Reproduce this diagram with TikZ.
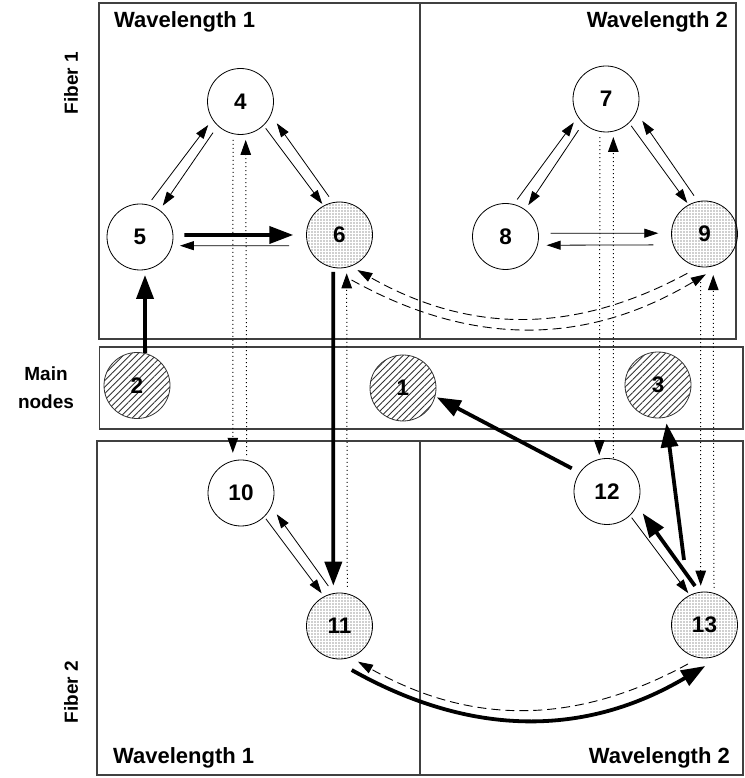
\documentclass[tikz,border=0pt]{standalone}
\usepackage{fontspec}
\setmainfont{Liberation Sans}
\usetikzlibrary{arrows.meta,calc,patterns.meta}

\tikzset{
  region/.style={draw=black!75, line width=1.1pt},
  station/.style={circle, draw=black, line width=0.8pt, minimum size=66pt, inner sep=0pt,
    font=\fontsize{22.5}{24}\selectfont\bfseries},
  plainst/.style={station, fill=white},
  dotst/.style={station, pattern={Dots[distance=3pt,radius=0.65pt]}, pattern color=black!80},
  hatchst/.style={station, draw=black!80, pattern={Lines[angle=45,distance=4.6pt,line width=0.9pt]}, pattern color=black!80},
  thinarr/.style={line width=0.8pt, -{Triangle[length=14pt,width=9pt]}},
  thickarr/.style={line width=3.8pt, -{Triangle[length=24pt,width=17pt]}},
  dotarr/.style={line width=1pt, dash pattern=on 1pt off 3pt, -{Triangle[length=15pt,width=10.5pt]}},
  dasharr/.style={line width=0.9pt, dash pattern=on 9pt off 5pt, -{Triangle[length=15pt,width=9.5pt]}},
  wlabel/.style={font=\fontsize{22}{24}\selectfont\bfseries, inner sep=0pt},
  sidelabel/.style={font=\fontsize{19}{27.6}\selectfont\bfseries, inner sep=0pt},
}

\begin{document}
\begin{tikzpicture}[x=1pt,y=1pt]
\useasboundingbox (0,0) rectangle (744,778);

% fiber 1 panel, main nodes strip, fiber 2 panel
\draw[region] (99,439) rectangle (736,775);
\draw[region] (420,439) -- (420,775);
\draw[region] (99.5,349) rectangle (743,431);
\draw[region] (97,3) rectangle (743,337);
\draw[region] (420,3) -- (420,337);

% panel captions
\node[wlabel, anchor=base west] (wl11) at (114,750.5) {Wavelength 1};
\node[wlabel, anchor=base east] (wl12) at (728,750.5) {Wavelength 2};
\node[wlabel, anchor=base west] (wl21) at (113,14) {Wavelength 1};
\node[wlabel, anchor=base east] (wl22) at (730,14) {Wavelength 2};
\node[sidelabel, rotate=90] (f1) at (71,695) {Fiber 1};
\node[sidelabel, rotate=90] (f2) at (71,86) {Fiber 2};
\node[sidelabel, align=center] (mn) at (46,390) {Main\\nodes};

% stations
\node[plainst] (n4) at (240.5,676.5) {4};
\node[plainst] (n5) at (140,541) {5};
\node[dotst]   (n6) at (339.5,543) {6};
\node[plainst] (n7) at (606,679) {7};
\node[plainst] (n8) at (505.5,541.5) {8};
\node[dotst]   (n9) at (704.5,544) {9};
\node[hatchst] (n2) at (137,392.5) {2};
\node[hatchst] (n1) at (403,390) {1};
\node[hatchst] (n3) at (658,393) {3};
\node[plainst] (n10) at (241,285) {10};
\node[dotst]   (n11) at (339.5,152) {11};
\node[plainst] (n12) at (607,286.5) {12};
\node[dotst]   (n13) at (704.5,153) {13};

% fiber 1, wavelength 1
\draw[thinarr] ($(n5)+(72.5:38.8)$) -- ($(n4)+(216.1:39.9)$);
\draw[thinarr] ($(n4)+(228.6:41.6)$) -- ($(n5)+(54:38.7)$);
\draw[thinarr] ($(n4)+(313.2:36.8)$) -- ($(n6)+(119:35.5)$);
\draw[thinarr] ($(n6)+(105.3:39.7)$) -- ($(n4)+(329:42.3)$);
\draw[thickarr] ($(n5)+(2.6:44.3)$) -- ($(n6)+(180:46.2)$);
\draw[thinarr] ($(n6)+(192:51.6)$) -- ($(n5)+(347.7:40.9)$);

% fiber 1, wavelength 2
\draw[thinarr] ($(n8)+(72.5:38.8)$) -- ($(n7)+(216.1:39.9)$);
\draw[thinarr] ($(n7)+(228.6:41.6)$) -- ($(n8)+(54:38.7)$);
\draw[thinarr] ($(n7)+(313.2:36.8)$) -- ($(n9)+(119:35.5)$);
\draw[thinarr] ($(n9)+(105.3:39.7)$) -- ($(n7)+(329:42.3)$);
\draw[thinarr] ($(n8)+(4:45.3)$) -- ($(n9)+(179:46.2)$);
\draw[thinarr] ($(n9)+(192:52.4)$) -- ($(n8)+(348:42)$);

% fiber 2
\draw[thinarr] ($(n10)+(313.9:36)$) -- ($(n11)+(118.6:37.2)$);
\draw[thinarr] ($(n11)+(105.6:41.5)$) -- ($(n10)+(329.2:41.6)$);
\draw[thinarr] ($(n12)+(313.3:36)$) -- ($(n13)+(117:35.6)$);
\draw[thickarr] ($(n13)+(103.7:40.1)$) -- ($(n12)+(328.6:41.8)$);

% lightpath between main nodes
\draw[thickarr] ($(n2)+(76:33.5)$) -- ($(n5)+(277.5:38.3)$);
\draw[thickarr] ($(n6)+(260.5:37.5)$) -- ($(n11)+(98.7:40.8)$);
\draw[thickarr] ($(n11)+(285.5:45.7)$) to[bend right=30] ($(n13)+(271:41)$);
\draw[thickarr] ($(n13)+(107.5:68.2)$) -- ($(n3)+(282.5:39.2)$);
\draw[thickarr] ($(n12)+(146.7:42.2)$) -- ($(n1)+(344.6:35)$);

% fiber crossings
\draw[dotarr] ($(n11)+(78.8:40)$) -- ($(n6)+(280.6:39)$);
\draw[dotarr] ($(n4)+(259:39.2)$) -- ($(n10)+(101.5:41)$);
\draw[dotarr] ($(n10)+(81.5:38.4)$) -- ($(n4)+(277.7:38.8)$);
\draw[dotarr] ($(n7)+(261:38.5)$) -- ($(n12)+(102:37.3)$);
\draw[dotarr] ($(n12)+(79.4:34)$) -- ($(n7)+(280.9:38.7)$);
\draw[dotarr] ($(n9)+(265:44.2)$) -- ($(n13)+(95.5:39.5)$);
\draw[dotarr] ($(n13)+(75.6:38.2)$) -- ($(n9)+(282:42)$);

% wavelength conversion links
\draw[dasharr] ($(n9)+(246.4:42.9)$) to[bend left=29] ($(n6)+(297:39.3)$);
\draw[dasharr] ($(n6)+(285:46.6)$) to[bend right=30] ($(n9)+(272:40.3)$);
\draw[dasharr] ($(n13)+(247:42.3)$) to[bend left=29] ($(n11)+(297.4:40.2)$);
\end{tikzpicture}
\end{document}
